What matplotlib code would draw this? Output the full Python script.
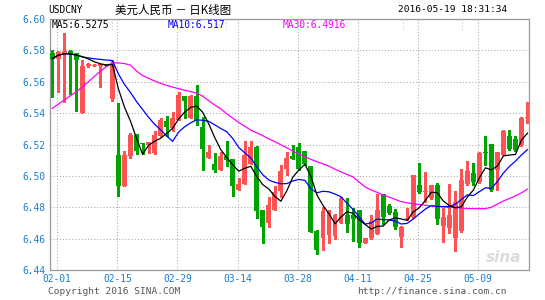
import numpy as np
import pandas as pd
import matplotlib
matplotlib.use("Agg")
import matplotlib.pyplot as plt
from matplotlib.lines import Line2D

# daily USDCNY candles, 01-29 .. 05-19
opens = [6.5786, 6.5748, 6.5780, 6.5799, 6.5782, 6.5398, 6.5699, 6.5700, 6.5702, 6.5712,
         6.5490, 6.5136, 6.4935, 6.5124, 6.5263, 6.5206, 6.5200, 6.5145, 6.5257, 6.5352,
         6.5306, 6.5357, 6.5511, 6.5369, 6.5511, 6.5314, 6.5113, 6.5073, 6.5035, 6.5124,
         6.5105, 6.4908, 6.4946, 6.5077, 6.5187, 6.4781, 6.4700, 6.4785, 6.4903, 6.5041,
         6.5126, 6.5183, 6.5156, 6.5062, 6.4648, 6.4601, 6.4626, 6.4618, 6.4700, 6.4749,
         6.4750, 6.4781, 6.4573, 6.4605, 6.4628, 6.4882, 6.4806, 6.4770, 6.4611, 6.4723,
         6.4738, 6.4945, 6.4897, 6.4861, 6.4939, 6.4681, 6.4668, 6.4605, 6.4650, 6.4946,
         6.5018, 6.4961, 6.5153, 6.5200, 6.5035, 6.5136, 6.5257, 6.5232, 6.5194, 6.5367]
highs = [6.5801, 6.5795, 6.5911, 6.5805, 6.5786, 6.5737, 6.5720, 6.5710, 6.5716, 6.5714,
         6.5737, 6.5462, 6.5157, 6.5276, 6.5265, 6.5208, 6.5217, 6.5289, 6.5369, 6.5384,
         6.5405, 6.5532, 6.5511, 6.5515, 6.5581, 6.5378, 6.5194, 6.5147, 6.5151, 6.5221,
         6.5105, 6.4986, 6.5221, 6.5225, 6.5190, 6.4781, 6.4865, 6.4933, 6.5072, 6.5151,
         6.5194, 6.5208, 6.5160, 6.5065, 6.4655, 6.4802, 6.4780, 6.4760, 6.4865, 6.4859,
         6.4796, 6.4785, 6.4605, 6.4753, 6.4882, 6.4885, 6.4818, 6.4787, 6.4680, 6.4797,
         6.5005, 6.5081, 6.5024, 6.4945, 6.4954, 6.4797, 6.4950, 6.4903, 6.5045, 6.5094,
         6.5081, 6.5150, 6.5257, 6.5205, 6.5155, 6.5290, 6.5295, 6.5255, 6.5375, 6.5469]
lows = [6.5504, 6.5532, 6.5468, 6.5521, 6.5411, 6.5398, 6.5695, 6.5698, 6.5568, 6.5698,
        6.5475, 6.4872, 6.4935, 6.5111, 6.5137, 6.5141, 6.5145, 6.5140, 6.5250, 6.5257,
        6.5289, 6.5357, 6.5369, 6.5369, 6.5327, 6.5035, 6.5113, 6.5024, 6.5035, 6.5060,
        6.4872, 6.4908, 6.4946, 6.5077, 6.4734, 6.4573, 6.4675, 6.4780, 6.4865, 6.5003,
        6.5105, 6.5039, 6.5070, 6.4640, 6.4501, 6.4527, 6.4573, 6.4600, 6.4700, 6.4643,
        6.4586, 6.4548, 6.4570, 6.4600, 6.4628, 6.4696, 6.4755, 6.4660, 6.4547, 6.4720,
        6.4734, 6.4890, 6.4833, 6.4855, 6.4691, 6.4579, 6.4639, 6.4523, 6.4645, 6.4940,
        6.4945, 6.4955, 6.5067, 6.4905, 6.4908, 6.5130, 6.5168, 6.5160, 6.5190, 6.5338]
closes = [6.5748, 6.5790, 6.5796, 6.5777, 6.5737, 6.5701, 6.5716, 6.5706, 6.5712, 6.5700,
          6.5716, 6.4935, 6.5130, 6.5263, 6.5158, 6.5204, 6.5215, 6.5263, 6.5357, 6.5310,
          6.5369, 6.5518, 6.5475, 6.5511, 6.5352, 6.5172, 6.5151, 6.5039, 6.5124, 6.5103,
          6.4935, 6.4950, 6.5130, 6.5187, 6.4777, 6.4675, 6.4812, 6.4895, 6.5034, 6.5113,
          6.5107, 6.5041, 6.5073, 6.4643, 6.4527, 6.4775, 6.4775, 6.4753, 6.4859, 6.4696,
          6.4724, 6.4573, 6.4601, 6.4711, 6.4780, 6.4735, 6.4763, 6.4675, 6.4675, 6.4734,
          6.5003, 6.4897, 6.4903, 6.4939, 6.4723, 6.4738, 6.4750, 6.4834, 6.4971, 6.5031,
          6.4961, 6.5145, 6.5148, 6.4908, 6.5151, 6.5285, 6.5172, 6.5166, 6.5369, 6.5370]
ma30 = [6.5430, 6.5457, 6.5484, 6.5510, 6.5537, 6.5566, 6.5600, 6.5634, 6.5667, 6.5697,
        6.5722, 6.5720, 6.5716, 6.5706, 6.5668, 6.5640, 6.5622, 6.5605, 6.5590, 6.5577,
        6.5566, 6.5556, 6.5546, 6.5537, 6.5528, 6.5508, 6.5480, 6.5452, 6.5428, 6.5396,
        6.5368, 6.5340, 6.5316, 6.5292, 6.5274, 6.5256, 6.5236, 6.5218, 6.5198, 6.5179,
        6.5158, 6.5139, 6.5122, 6.5105, 6.5090, 6.5077, 6.5062, 6.5043, 6.5026, 6.5009,
        6.4993, 6.4961, 6.4930, 6.4910, 6.4895, 6.4878, 6.4865, 6.4850, 6.4836, 6.4828,
        6.4822, 6.4818, 6.4813, 6.4808, 6.4805, 6.4802, 6.4800, 6.4798, 6.4795, 6.4792,
        6.4791, 6.4791, 6.4791, 6.4800, 6.4820, 6.4840, 6.4856, 6.4872, 6.4892, 6.4916]

tick_labels = ["02-01", "02-15", "02-29", "03-14", "03-28", "04-11", "04-25", "05-09"]
ma_text = ["MA5:6.5275", "MA10:6.517", "MA30:6.4916"]

df = pd.DataFrame({"open": opens, "high": highs, "low": lows, "close": closes, "ma30": ma30})
df["ma5"] = df["close"].rolling(5, min_periods=1).mean()
df["ma10"] = df["close"].rolling(10, min_periods=1).mean()

RED = "#ff5252"
GREEN = "#00a400"
BLUE_TXT = "#1a7fd4"
MONO = "DejaVu Sans Mono"

x = np.arange(len(df))
colors = np.where(df["close"] >= df["open"], RED, GREEN)
body_low = df[["open", "close"]].min(axis=1)
body_h = (df["close"] - df["open"]).abs().clip(lower=0.0006)

W, H = 545, 300
fig = plt.figure(figsize=(W / 100, H / 100), dpi=100)
ax = fig.add_axes([50 / W, 30 / H, 479 / W, 251 / H])

ax.vlines(x, df["low"], df["high"], colors=colors, lw=0.8, antialiased=False, zorder=2)
ax.bar(x, body_h, bottom=body_low, width=0.82, color=colors, lw=0, zorder=3)

ax.plot(x, df["ma30"], color="#ff00ff", lw=0.9, zorder=4)
ax.plot(x, df["ma10"], color="#0000ff", lw=0.9, zorder=5)
ax.plot(x, df["ma5"], color="black", lw=0.9, zorder=6)

ax.set_xlim(-0.38, 79.25)
ax.set_ylim(6.44, 6.60)
ax.set_yticks(np.arange(6.44, 6.601, 0.02))
ax.set_yticklabels([f"{v:.2f}" for v in np.arange(6.44, 6.601, 0.02)])
ax.set_xticks(np.arange(1, 80, 10) - 0.2)
ax.set_xticklabels(tick_labels)
ax.tick_params(length=0, labelsize=6.9, colors=BLUE_TXT, pad=3)
for lab in ax.get_xticklabels() + ax.get_yticklabels():
    lab.set_family(MONO)
ax.grid(color="#aaaaaa", lw=0.75, linestyle=(0, (1, 2)), zorder=0)
ax.set_axisbelow(True)
for s in ax.spines.values():
    s.set_color("#999999")
    s.set_linewidth(0.9)

# watermark
ax.text(0.985, 0.02, "sina", transform=ax.transAxes, ha="right", va="bottom",
        fontsize=11, fontweight="bold", style="italic", color="#dcdcdc", zorder=1)


def ft(px, py, s, **kw):
    fig.text(px / W, 1 - py / H, s, va="center", **kw)


ft(48, 10, "USDCNY", family=MONO, fontsize=6.9, color="black")
ft(115, 10, "美元人民币 － 日K线图", family=["Noto Sans CJK SC", "DejaVu Sans"],
   fontsize=8.3, color="black")
ft(507, 10, "2016-05-19 18:31:34", family=MONO, fontsize=6.8, color="black", ha="right")

for px, s, c in zip([52, 168, 283], ma_text, ["black", "#0000ff", "#ff00ff"]):
    ft(px, 24.5, s, family=MONO, fontsize=6.9, color=c)
for px in [112, 226, 346, 403, 462]:
    fig.add_artist(Line2D([px / W, px / W], [1 - 19 / H, 1 - 29 / H], color="#bbbbbb",
                          lw=0.75, linestyle=(0, (1, 2))))

ft(48, 292, "Copyright 2016 SINA.COM", family=MONO, fontsize=6.8, color="#555555")
ft(507, 292, "http://finance.sina.com.cn", family=MONO, fontsize=6.8, color="#555555",
   ha="right")

fig.savefig("out.png", dpi=100)
